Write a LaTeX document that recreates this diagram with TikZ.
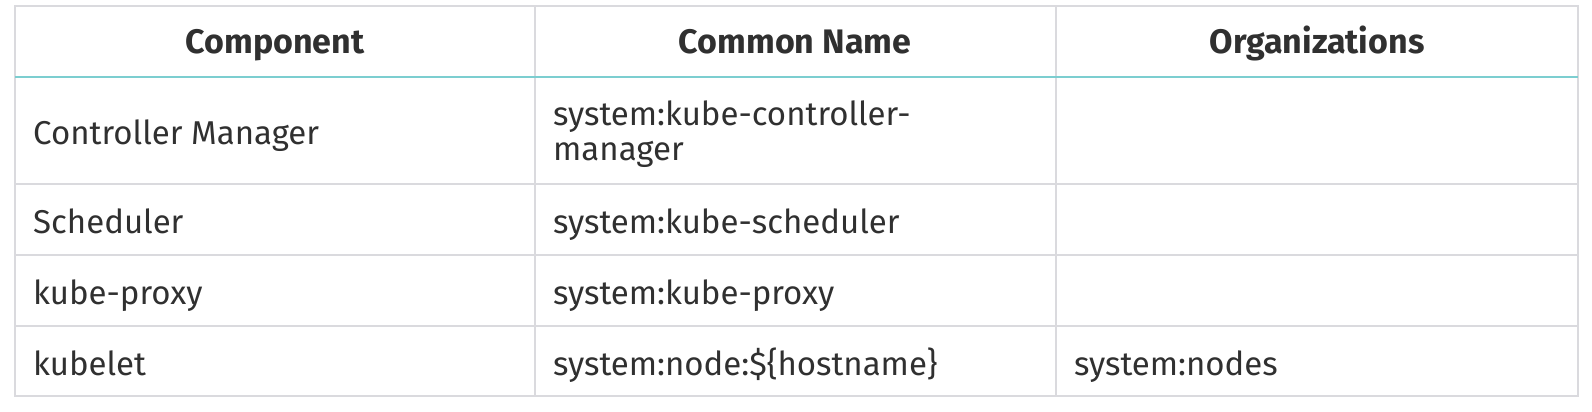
\documentclass[tikz,border=0pt]{standalone}
\usepackage{fontspec}
\setmainfont{Fira Sans}
\usepackage{tikz}
\usepackage{xcolor}
\definecolor{gridgray}{RGB}{218,218,222}
\definecolor{headteal}{RGB}{124,206,208}
\definecolor{inkgray}{RGB}{48,48,48}

\begin{document}
\begin{tikzpicture}[x=1pt,y=-1pt,
  rule/.style={draw=gridgray,line width=2pt},
  headrule/.style={draw=headteal,line width=2pt},
  head/.style={anchor=base,inner sep=0pt,text=inkgray,font=\fontsize{34}{36}\selectfont\bfseries},
  cell/.style={anchor=base west,inner sep=0pt,text=inkgray,font=\fontsize{33}{35}\selectfont}]
\useasboundingbox (0,0) rectangle (1592,412);
%%%GRID
\draw[rule] (15,6) rectangle (1578,396);
\draw[rule] (15,184) -- (1578,184);
\draw[rule] (15,255) -- (1578,255);
\draw[rule] (15,326) -- (1578,326);
\draw[rule] (535,6) -- (535,396);
\draw[rule] (1056,6) -- (1056,396);
\draw[headrule] (15,77) -- (1578,77);
%%%HEADER
\node[head] (hcomp) at (275,54) {Component};
\node[head] (hname) at (795,54) {Common Name};
\node[head] (horg) at (1317,54) {Organizations};
%%%ROWS
\node[cell] (ctrl) at (33,144) {Controller Manager};
\node[cell,anchor=west,align=left] (ctrlname) at (553,134) {system:kube-controller-\\manager};
\node[cell] (sched) at (33,233) {Scheduler};
\node[cell] (schedname) at (553,233) {system:kube-scheduler};
\node[cell] (proxy) at (33,304) {kube-proxy};
\node[cell] (proxyname) at (553,304) {system:kube-proxy};
\node[cell] (kubelet) at (33,375) {kubelet};
\node[cell] (kubeletname) at (553,375) {system:node:\$\{hostname\}};
\node[cell] (kubeletorg) at (1074,375) {system:nodes};
\end{tikzpicture}
\end{document}
